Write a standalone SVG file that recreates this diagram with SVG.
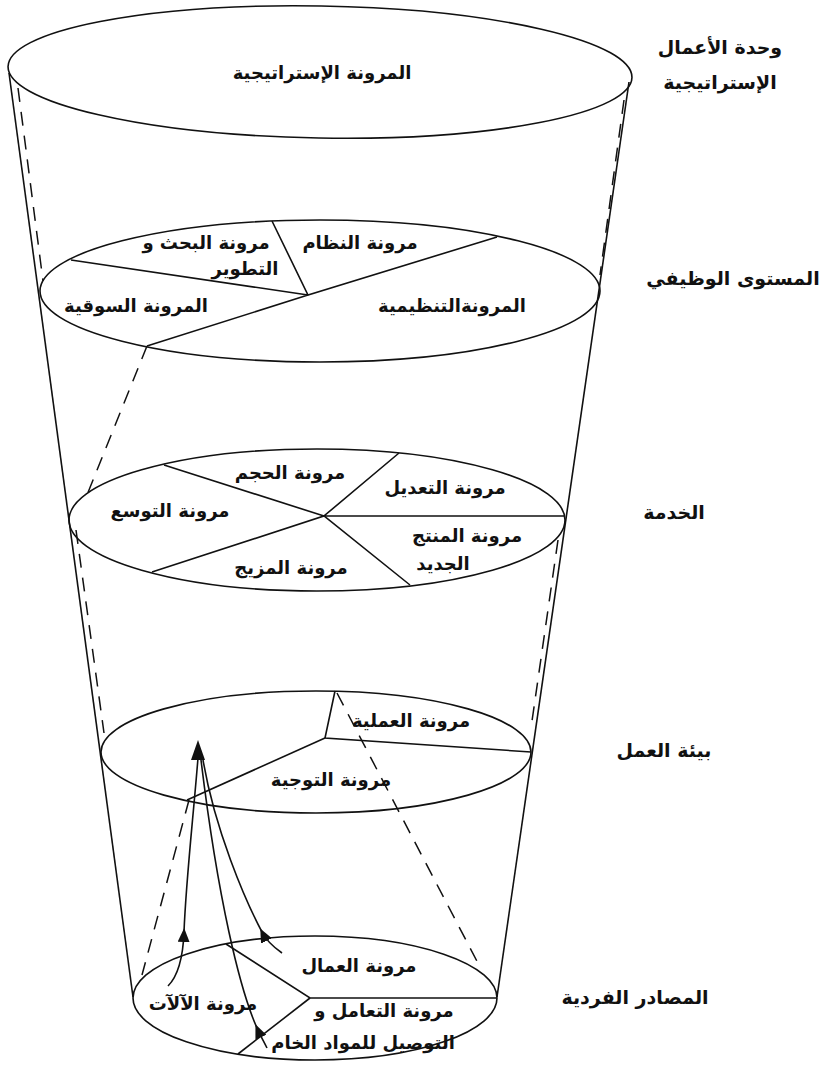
<svg xmlns="http://www.w3.org/2000/svg" width="822" height="1068" viewBox="0 0 822 1068">
<style>
.ln{fill:none;stroke:#111;stroke-width:1.6}
.dsh{fill:none;stroke:#111;stroke-width:1.5;stroke-dasharray:14 10}
.t{font-family:"DejaVu Sans",sans-serif;font-weight:bold;font-size:18px;fill:#111;text-anchor:middle;direction:rtl}
.r{font-size:19px}
</style>
<defs>
<marker id="ah" markerUnits="userSpaceOnUse" markerWidth="14" markerHeight="12" refX="10" refY="6" orient="auto">
<path d="M0,0 L14,6 L0,12 z" fill="#111"/>
</marker>
</defs>
<rect width="822" height="1068" fill="#fff"/>
<g id="funnel">
<line class="ln" x1="9" y1="73" x2="133" y2="997"/>
<line class="ln" x1="629" y1="82" x2="497" y2="997"/>
<line class="dsh" x1="18" y1="88" x2="43" y2="281"/>
<line class="dsh" x1="147" y1="346" x2="85" y2="500"/>
<line class="dsh" x1="76" y1="530" x2="104" y2="733"/>
<line class="dsh" x1="189" y1="800" x2="142" y2="975"/>
<line class="dsh" x1="624" y1="100" x2="600" y2="275"/>
<line class="dsh" x1="558" y1="540" x2="531" y2="728"/>
<line class="dsh" x1="337" y1="693" x2="480" y2="967"/>
</g>
<g id="level1">
<ellipse class="ln" cx="320" cy="72" rx="312" ry="66" transform="rotate(1 320 72)"/>
<text class="t" x="322" y="79">المرونة الإستراتيجية</text>
</g>
<g id="level2">
<ellipse class="ln" cx="320" cy="291" rx="280" ry="71"/>
<polyline class="ln" points="497,237 308,295 272,221"/>
<polyline class="ln" points="71,260 308,295 147,346"/>
<text class="t" x="206" y="249">مرونة البحث و</text>
<text class="t" x="245" y="275">التطوير</text>
<text class="t" x="360" y="249">مرونة النظام</text>
<text class="t" x="136" y="312">المرونة السوقية</text>
<text class="t" x="452" y="312">المرونةالتنظيمية</text>
</g>
<g id="level3">
<ellipse class="ln" cx="317" cy="520" rx="248" ry="71"/>
<polyline class="ln" points="399,453 324,516 565,516"/>
<polyline class="ln" points="410,585 324,516 152,572"/>
<line class="ln" x1="324" y1="516" x2="164" y2="465"/>
<text class="t" x="290" y="479">مرونة الحجم</text>
<text class="t" x="445" y="494">مرونة التعديل</text>
<text class="t" x="170" y="517">مرونة التوسع</text>
<text class="t" x="467" y="542">مرونة المنتج</text>
<text class="t" x="443" y="570">الجديد</text>
<text class="t" x="291" y="574">مرونة المزيج</text>
</g>
<g id="level4">
<ellipse class="ln" cx="316" cy="752" rx="215" ry="61"/>
<polyline class="ln" points="335,691 325,738 531,752"/>
<line class="ln" x1="325" y1="738" x2="187" y2="800"/>
<text class="t" x="411" y="727">مرونة العملية</text>
<text class="t" x="331" y="786">مرونة التوجية</text>
</g>
<g id="level5">
<ellipse class="ln" cx="315" cy="998" rx="182" ry="62"/>
<polyline class="ln" points="226,944 310,998 497,998"/>
<line class="ln" x1="310" y1="998" x2="238" y2="1054"/>
<text class="t" x="359" y="972">مرونة العمال</text>
<text class="t" x="203" y="1010">مرونة الآلآت</text>
<text class="t" x="384" y="1017">مرونة التعامل و</text>
<text class="t" x="363" y="1049">التوصيل للمواد الخام</text>
</g>
<g id="labels">
<text class="t r" x="720" y="54">وحدة الأعمال</text>
<text class="t r" x="720" y="89">الإستراتيجية</text>
<text class="t r" x="733" y="285">المستوى الوظيفي</text>
<text class="t r" x="674" y="519">الخدمة</text>
<text class="t r" x="664" y="757">بيئة العمل</text>
<text class="t r" x="635" y="1004">المصادر الفردية</text>
</g>
<g id="connectors">
<path class="ln" d="M168,986 C178,976 183,958 184,932" marker-end="url(#ah)"/>
<path class="ln" d="M184,932 C186,880 193,820 198,758"/>
<path class="ln" d="M267,1048 C263,1040 260,1035 257,1028" marker-end="url(#ah)"/>
<path class="ln" d="M257,1028 C240,990 218,900 201,760"/>
<path class="ln" d="M282,953 C272,946 266,940 262,932" marker-end="url(#ah)"/>
<path class="ln" d="M262,932 C245,900 215,830 203,760"/>
<polygon points="198,740 191,760 205,760" fill="#111"/>
</g>
</svg>
